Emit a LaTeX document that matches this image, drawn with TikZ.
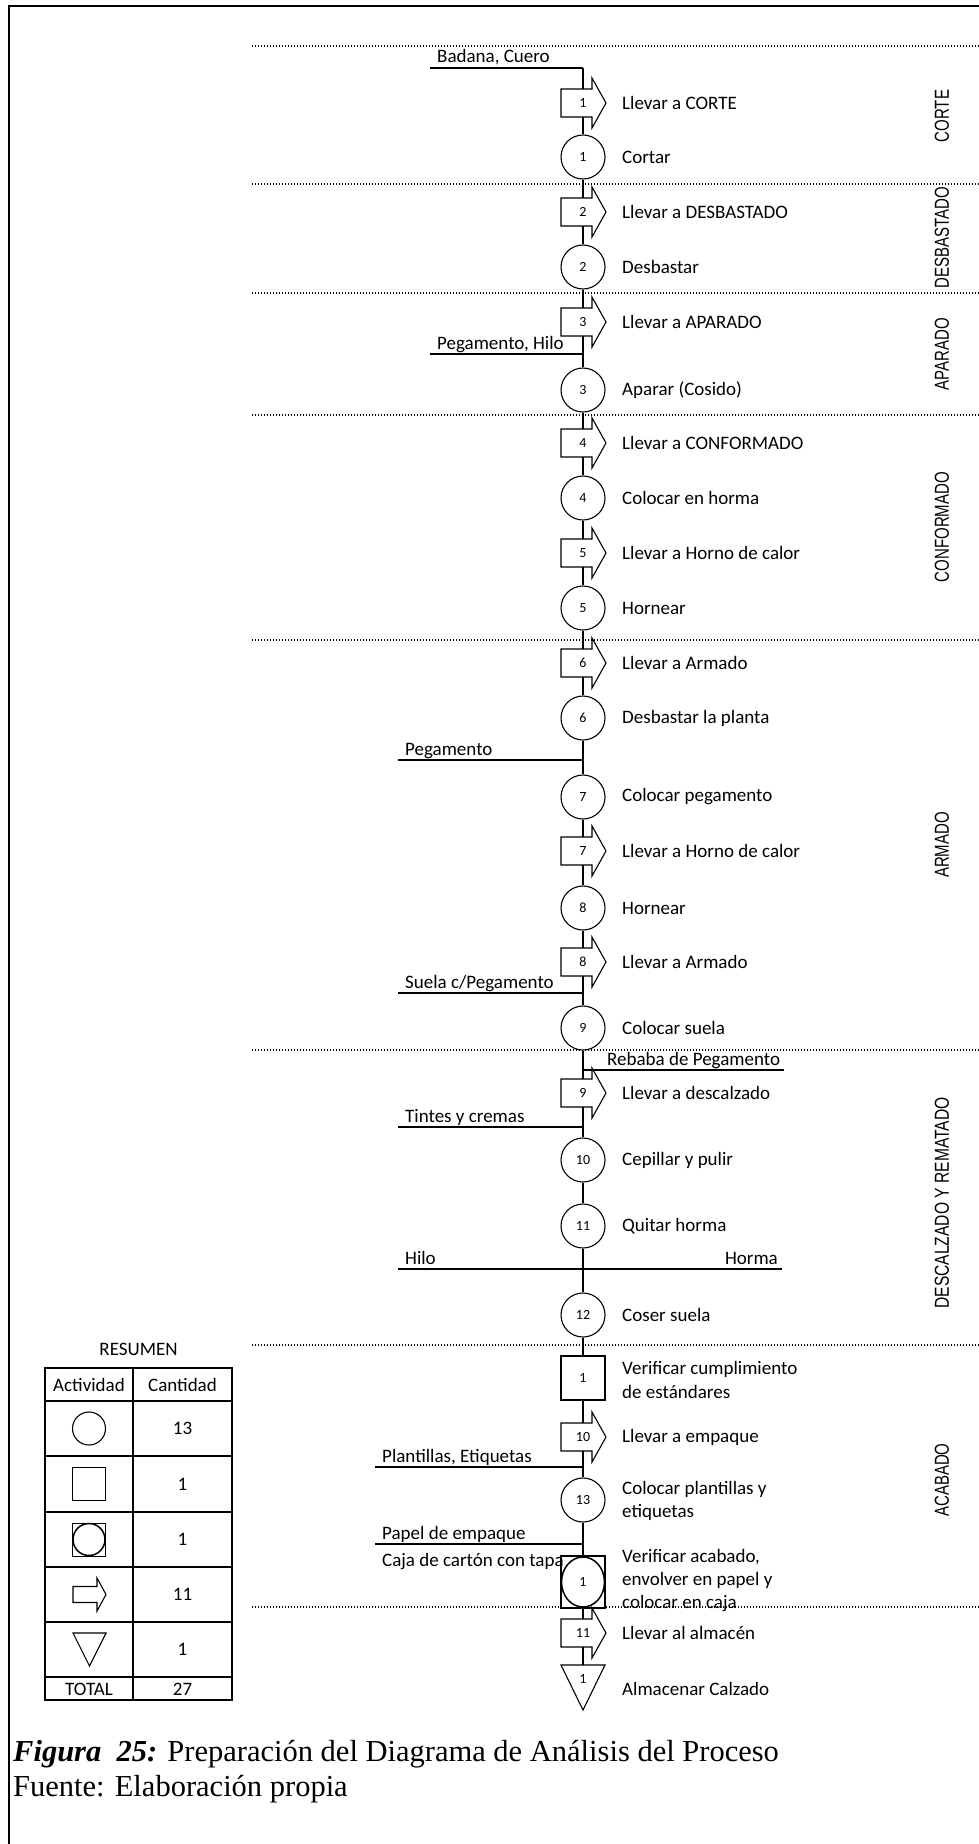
\documentclass[tikz,border=0pt]{standalone}
\usepackage{fontspec}
\usepackage{graphicx}
\setmainfont{Carlito}
\newfontfamily\secfont{Liberation Sans}
\newfontfamily\capfont{Liberation Serif}
\tikzset{
  x=1pt, y=-1pt,
  ln/.style={line width=1.1pt},
  sep/.style={line width=1.3pt, dash pattern=on 1.4pt off 1.6pt},
  lbl/.style={anchor=west, inner sep=0pt, font=\fontsize{19}{23}\selectfont, align=left},
  inlbl/.style={anchor=base west, inner sep=0pt, font=\fontsize{19}{23}\selectfont},
  num/.style={inner sep=0pt, font=\fontsize{14}{16}\selectfont},
  opc/.style={circle, draw, ln, fill=white, minimum size=44pt, inner sep=0pt, font=\fontsize{14}{16}\selectfont},
  seclbl/.style={rotate=90, inner sep=0pt, font=\secfont\fontsize{15}{17}\selectfont},
  tbl/.style={inner sep=0pt, font=\fontsize{19}{23}\selectfont},
}
\newcommand\sectxt[2][1]{\scalebox{#1}[1.35]{#2}}
\newcommand\mvarrow[3]{%
  \draw[ln, fill=white] (561,#2-14) -- (592,#2-14) -- (592,#2-25) -- (606,#2) -- (592,#2+25) -- (592,#2+14) -- (561,#2+14) -- cycle;
  \node[num] (#1) at (583,#2) {#3};
  \coordinate (#1t) at (583,#2-14);
  \coordinate (#1b) at (583,#2+14);
}
\begin{document}
\begin{tikzpicture}
\useasboundingbox (0,0) rectangle (979,1844);
% frame
\draw[line width=2.6pt] (9,1844) -- (9,6) -- (979,6);
% section separators
\foreach \yy in {46,184,293,415,640,1050,1345,1607}
  \draw[sep] (252,\yy) -- (979,\yy);
% section labels
\node[seclbl] (sCorte) at (942,116) {\sectxt{CORTE}};
\node[seclbl] (sDesb) at (942,238) {\sectxt{DESBASTADO}};
\node[seclbl] (sApar) at (942,354) {\sectxt{APARADO}};
\node[seclbl] (sConf) at (942,527) {\sectxt{CONFORMADO}};
\node[seclbl] (sArm) at (942,845) {\sectxt{ARMADO}};
\node[seclbl] (sDesc) at (942,1203) {\sectxt[1.04]{DESCALZADO Y REMATADO}};
\node[seclbl] (sAcab) at (942,1480) {\sectxt{ACABADO}};
% ---------- process axis shapes
\coordinate (top) at (583,68);
\mvarrow{a1}{103}{1}
\node[opc] (c1) at (583,157) {1};
\mvarrow{a2}{212}{2}
\node[opc] (c2) at (583,267) {2};
\mvarrow{a3}{322}{3}
\node[opc] (c3) at (583,390) {3};
\mvarrow{a4}{443}{4}
\node[opc] (c4) at (583,498) {4};
\mvarrow{a5}{553}{5}
\node[opc] (c5) at (583,608) {5};
\mvarrow{a6}{663}{6}
\node[opc] (c6) at (583,718) {6};
\node[opc] (c7) at (583,797) {7};
\mvarrow{a7}{851}{7}
\node[opc] (c8) at (583,908) {8};
\mvarrow{a8}{962}{8}
\node[opc] (c9) at (583,1028) {9};
\mvarrow{a9}{1093}{9}
\node[opc] (c10) at (583,1160) {10};
\node[opc] (c11) at (583,1226) {11};
\node[opc] (c12) at (583,1315) {12};
\node[draw, ln, fill=white, minimum width=44pt, minimum height=44pt, inner sep=0pt, font=\fontsize{14}{16}\selectfont] (s1) at (583,1378) {1};
\mvarrow{a10}{1437}{10}
\node[opc] (c13) at (583,1500) {13};
\node[draw, ln, fill=white, minimum width=44pt, minimum height=52pt, inner sep=0pt] (cb1) at (583,1582) {};
\draw[line width=1.5pt] (cb1.center) ellipse [x radius=21.5pt, y radius=25pt];
\node[num] (cb1n) at (583,1582) {1};
\mvarrow{a11}{1633}{11}
\draw[ln, fill=white] (561,1665) -- (605,1665) -- (583,1710) -- cycle;
\coordinate (t1t) at (583,1665);
\node[num] (t1) at (583,1679) {1};
% ---------- axis connectors
\draw[ln] (top) -- (a1t);
\draw[ln] (a1b) -- (c1.north);
\draw[ln] (c1.south) -- (a2t);
\draw[ln] (a2b) -- (c2.north);
\draw[ln] (c2.south) -- (a3t);
\draw[ln] (a3b) -- (c3.north);
\draw[ln] (c3.south) -- (a4t);
\draw[ln] (a4b) -- (c4.north);
\draw[ln] (c4.south) -- (a5t);
\draw[ln] (a5b) -- (c5.north);
\draw[ln] (c5.south) -- (a6t);
\draw[ln] (a6b) -- (c6.north);
\draw[ln] (c6.south) -- (c7.north);
\draw[ln] (c7.south) -- (a7t);
\draw[ln] (a7b) -- (c8.north);
\draw[ln] (c8.south) -- (a8t);
\draw[ln] (a8b) -- (c9.north);
\draw[ln] (c9.south) -- (a9t);
\draw[ln] (a9b) -- (c10.north);
\draw[ln] (c10.south) -- (c11.north);
\draw[ln] (c11.south) -- (c12.north);
\draw[ln] (c12.south) -- (s1.north);
\draw[ln] (s1.south) -- (a10t);
\draw[ln] (a10b) -- (c13.north);
\draw[ln] (c13.south) -- (cb1.north);
\draw[ln] (cb1.south) -- (a11t);
\draw[ln] (a11b) -- (t1t);
% ---------- step labels
\node[lbl] (l1) at (622,103) {Llevar a CORTE};
\node[lbl] (l2) at (622,157) {Cortar};
\node[lbl] (l3) at (622,212) {Llevar a DESBASTADO};
\node[lbl] (l4) at (622,267) {Desbastar};
\node[lbl] (l5) at (622,322) {Llevar a APARADO};
\node[lbl] (l6) at (622,390) {Aparar (Cosido)};
\node[lbl] (l7) at (622,443) {Llevar a CONFORMADO};
\node[lbl] (l8) at (622,498) {Colocar en horma};
\node[lbl] (l9) at (622,553) {Llevar a Horno de calor};
\node[lbl] (l10) at (622,608) {Hornear};
\node[lbl] (l11) at (622,663) {Llevar a Armado};
\node[lbl] (l12) at (622,718) {Desbastar la planta};
\node[lbl] (l13) at (622,797) {Colocar pegamento};
\node[lbl] (l14) at (622,851) {Llevar a Horno de calor};
\node[lbl] (l15) at (622,908) {Hornear};
\node[lbl] (l16) at (622,962) {Llevar a Armado};
\node[lbl] (l17) at (622,1028) {Colocar suela};
\node[lbl] (l18) at (622,1093) {Llevar a descalzado};
\node[lbl] (l19) at (622,1160) {Cepillar y pulir};
\node[lbl] (l20) at (622,1226) {Quitar horma};
\node[lbl] (l21) at (622,1315) {Coser suela};
\node[lbl] (l22) at (622,1380) {Verificar cumplimiento\\[1pt]de estándares};
\node[lbl] (l23) at (622,1437) {Llevar a empaque};
\node[lbl] (l24) at (622,1501) {Colocar plantillas y\\etiquetas};
\node[lbl] (l25) at (622,1581) {Verificar acabado,\\envolver en papel y\\colocar en caja};
\node[lbl] (l26) at (622,1633) {Llevar al almacén};
\node[lbl] (l27) at (622,1689) {Almacenar Calzado};
% ---------- inputs / outputs
\coordinate (jB) at (583,68);
\coordinate (iB) at (430,68);
\draw[ln] (iB) -- (jB);
\node[inlbl] (tB) at (437,63) {Badana, Cuero};
\coordinate (jPH) at (583,354);
\coordinate (iPH) at (430,354);
\draw[ln] (iPH) -- (jPH);
\node[inlbl] (tPH) at (437,349) {Pegamento, Hilo};
\coordinate (jP) at (583,760);
\coordinate (iP) at (398,760);
\draw[ln] (iP) -- (jP);
\node[inlbl] (tP) at (405,755) {Pegamento};
\coordinate (jS) at (583,993);
\coordinate (iS) at (398,993);
\draw[ln] (iS) -- (jS);
\node[inlbl] (tS) at (405,988) {Suela c/Pegamento};
\coordinate (jR) at (583,1070);
\coordinate (oR) at (784,1070);
\draw[ln] (jR) -- (oR);
\node[inlbl] (tR) at (607,1065) {Rebaba de Pegamento};
\coordinate (jT) at (583,1127);
\coordinate (iT) at (398,1127);
\draw[ln] (iT) -- (jT);
\node[inlbl] (tT) at (405,1122) {Tintes y cremas};
\coordinate (jH) at (583,1269);
\coordinate (iH) at (398,1269);
\coordinate (oH) at (782,1269);
\draw[ln] (iH) -- (jH);
\draw[ln] (jH) -- (oH);
\node[inlbl] (tH) at (405,1264) {Hilo};
\node[inlbl, anchor=base east] (tHo) at (778,1264) {Horma};
\coordinate (jPl) at (583,1467);
\coordinate (iPl) at (375,1467);
\draw[ln] (iPl) -- (jPl);
\node[inlbl] (tPl) at (382,1462) {Plantillas, Etiquetas};
\coordinate (jPa) at (583,1544);
\coordinate (iPa) at (375,1544);
\draw[ln] (iPa) -- (jPa);
\node[inlbl] (tPa) at (382,1539) {Papel de empaque};
\node[inlbl] (tCa) at (382,1566) {Caja de cartón con tapa};
% ---------- summary table
\node[tbl] (res) at (138.5,1349) {RESUMEN};
\draw[ln] (45,1368) rectangle (232,1700);
\draw[ln] (133,1368) -- (133,1700);
\foreach \yy in {1401,1456,1512,1567,1622,1677} \draw[ln] (45,\yy) -- (232,\yy);
\node[tbl] (hA) at (89,1385) {Actividad};
\node[tbl] (hC) at (182.5,1385) {Cantidad};
\node[circle, draw, ln, minimum size=33pt, inner sep=0pt] (sy1) at (89,1428.5) {};
\node[draw, ln, minimum size=33pt, inner sep=0pt] (sy2) at (89,1484) {};
\node[draw, line width=0.9pt, minimum size=33pt, inner sep=0pt] (sy3) at (89,1539.5) {};
\draw[line width=1.5pt] (sy3.center) circle [radius=16pt];
\draw[ln] (73,1586.5) -- (97,1586.5) -- (97,1578) -- (106,1594.5) -- (97,1611) -- (97,1602.5) -- (73,1602.5) -- cycle;
\coordinate (sy4) at (89,1594.5);
\draw[ln] (73,1633) -- (106,1633) -- (89.5,1666) -- cycle;
\coordinate (sy5) at (89,1649.5);
\node[tbl] (n1) at (182.5,1428.5) {13};
\node[tbl] (n2) at (182.5,1484) {1};
\node[tbl] (n3) at (182.5,1539.5) {1};
\node[tbl] (n4) at (182.5,1594.5) {11};
\node[tbl] (n5) at (182.5,1649.5) {1};
\node[tbl] (tot) at (89,1689) {TOTAL};
\node[tbl] (n6) at (182.5,1689) {27};
% ---------- caption
\node[anchor=base west, inner sep=0pt, font=\capfont\fontsize{30.5}{36}\selectfont] (cap1) at (13,1761) {\textbf{\textit{Figura\ \ 25:}} Preparación del Diagrama de Análisis del Proceso};
\node[anchor=base west, inner sep=0pt, font=\capfont\fontsize{30.5}{36}\selectfont] (cap2) at (13,1796) {Fuente: Elaboración propia};
\end{tikzpicture}
\end{document}
